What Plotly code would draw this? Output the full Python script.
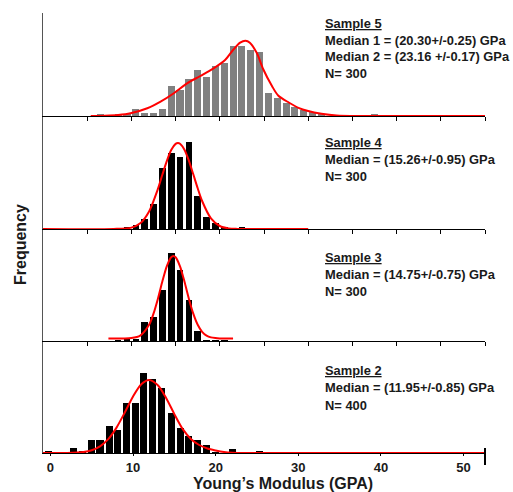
import plotly.graph_objects as go

# ---------------- data ----------------
# Sample 5 (top panel)
s5_x = [6.5, 8.5, 9.5, 10.5, 11.5, 12.5, 13.5, 14.5, 15.5, 16.5, 17.5, 18.5, 19.5, 20.5,
        21.5, 22.5, 23.5, 24.5, 25.5, 26.5, 27.5, 28.5, 29.5, 30.5, 31.5, 37.5]
s5_y = [2, 1.5, 1.5, 7.5, 3, 3, 7.5, 30, 26, 37, 46, 39, 50, 53,
        70, 70, 66, 64, 23.5, 18, 13, 9, 6, 4.5, 2, 2]
s5_fit_x = [5.4, 7, 8.5, 9.9, 11.8, 13.3, 14.8, 16.3, 17.8, 19.3, 20.6, 21.5, 22.3, 22.9,
            23.4, 24.2, 24.9, 25.9, 26.6, 27.8, 28.9, 30.0, 31.5, 33.2, 36, 40, 50]
s5_fit_y = [0, 0.3, 1, 2.7, 7.7, 14.3, 22.7, 32.7, 40, 47.7, 56, 66, 73.3, 75.3,
            73.3, 62.7, 47, 30, 20.5, 13.5, 8.2, 5, 2.3, 0.5, 0, 0, 0]

# Sample 4
s4_x = [8.5, 9.5, 10.5, 11.5, 12.5, 13.5, 14.5, 15.5, 16.5, 17.5, 18.5, 19.5, 20.5, 22.5]
s4_y = [1, 2, 4, 10, 25, 61, 76, 72, 87, 33, 12, 6, 2, 2]
s4_fit_x = [0, 8, 10, 11, 12, 13, 13.5, 14, 14.5, 15, 15.26, 15.5, 16, 16.5, 17, 17.5,
            18, 19, 20, 21, 22, 30]
s4_fit_y = [0, 0.03, 1.4, 5.7, 17.6, 40.1, 54.2, 67.8, 78.9, 85.1, 86, 85.3, 79.3, 68.4,
            54.7, 40.7, 28.0, 10.7, 3.0, 0.6, 0.1, 0]

# Sample 3
s3_x = [8.5, 9.5, 10.5, 11.5, 12.5, 13.5, 14.5, 15.5, 16.5, 17.5, 18.5, 19.5, 20.5]
s3_y = [1, 2.5, 2.5, 19, 24, 51, 88, 71, 41, 10.5, 1, 0.7, 0.7]
s3_fit_x = [7.4, 9, 10, 11, 12, 12.5, 13, 13.5, 14, 14.5, 14.75, 15, 15.5, 16, 16.5,
            17, 17.5, 18, 18.5, 19, 19.5, 20, 21.5]
s3_fit_y = [2.5, 2.6, 2.9, 5.4, 16.2, 27.3, 42.3, 59.4, 74.7, 83.8, 85, 83.8, 74.7, 59.4,
            42.3, 27.3, 16.2, 9.2, 5.4, 3.6, 2.9, 2.6, 2.5]

# Sample 2 (bottom panel, labelled axis)
s2_x = [-0.2, 2.8, 3.85, 5.0, 6.0, 7.1, 8.1, 9.2, 10.3, 11.3, 12.4, 13.5, 14.6, 15.7,
        16.7, 17.8, 18.9, 20.0, 22.0, 25.3]
s2_y = [2, 5, 2, 13, 13, 27, 23, 50, 50, 80, 74, 65, 40, 25, 17, 13, 8, 1, 4, 2]
s2_fit_x = [-0.9, 2, 4, 5, 6, 7, 8, 9, 10, 11, 11.95, 13, 14, 15, 16, 17, 18, 19, 20,
            21, 22, 24, 52.6]
s2_fit_y = [0, 0.1, 1.0, 2.8, 6.7, 13.9, 25.4, 40.5, 56.5, 68.7, 73, 67.7, 55.0, 38.9,
            24.1, 14, 8, 4.5, 2.5, 1, 0.3, 0, 0]

bottom_ticks = [0, 10, 20, 30, 40, 50]
upper_ticks = [5, 10, 15, 20, 25, 30, 35, 40, 45, 50]

labels = {
    "s5": ["<u>Sample 5</u>", "Median 1 = (20.30+/-0.25) GPa",
           "Median 2 = (23.16 +/-0.17) GPa", "N= 300"],
    "s4": ["<u>Sample 4</u>", "Median = (15.26+/-0.95) GPa", "N= 300"],
    "s3": ["<u>Sample 3</u>", "Median = (14.75+/-0.75) GPa", "N= 300"],
    "s2": ["<u>Sample 2</u>", "Median = (11.95+/-0.85) GPa", "N= 400"],
}

# ---------------- layout geometry ----------------
W, H = 513, 492
ML, MR, MT, MB = 43, 28, 13, 39
PW = W - ML - MR
PH = H - MT - MB
base_px = [453, 341, 229, 116]   # baselines of panels: s2, s3, s4, s5
top_px = [341, 229, 116, 13]

def py(p):  # pixel y -> paper
    return (H - MB - p) / PH

def px(p):  # pixel x -> paper
    return (p - ML) / PW

FONT = "Liberation Sans, Arial, sans-serif"
TXT = "#1a1a1a"
RED = "#ff0000"

fig = go.Figure()

panels = [
    ("s2", s2_x, s2_y, s2_fit_x, s2_fit_y, "black", 0.85, "x", "y"),
    ("s3", s3_x, s3_y, s3_fit_x, s3_fit_y, "black", 0.75, "x2", "y2"),
    ("s4", s4_x, s4_y, s4_fit_x, s4_fit_y, "black", 0.75, "x3", "y3"),
    ("s5", s5_x, s5_y, s5_fit_x, s5_fit_y, "#808080", 0.8, "x4", "y4"),
]
for name, bx, by, fx, fy, col, bw, xa, ya in panels:
    fig.add_trace(go.Bar(x=bx, y=by, width=bw, marker=dict(color=col, line=dict(width=0)),
                         xaxis=xa, yaxis=ya, showlegend=False, hoverinfo="skip"))
    fig.add_trace(go.Scatter(x=fx, y=fy, mode="lines", line=dict(color=RED, width=2, shape="spline",
                             smoothing=0.8), xaxis=xa, yaxis=ya, showlegend=False, hoverinfo="skip"))

layout = dict(
    width=W, height=H, margin=dict(l=ML, r=MR, t=MT, b=MB),
    paper_bgcolor="white", plot_bgcolor="white", bargap=0,
    font=dict(family=FONT, color=TXT),
)
for i in range(4):
    xs = "xaxis" if i == 0 else f"xaxis{i+1}"
    ys = "yaxis" if i == 0 else f"yaxis{i+1}"
    ya_name = "y" if i == 0 else f"y{i+1}"
    d0, d1 = py(base_px[i]), py(top_px[i])
    height_units = base_px[i] - top_px[i]
    ax = dict(domain=[0, 1], anchor=ya_name, showline=True, linecolor="black", linewidth=1,
              showgrid=False, zeroline=False, layer="below traces", ticks="outside",
              tickcolor="black")
    if i == 0:
        ax.update(range=[-0.9, 52.6], tickvals=bottom_ticks, ticklen=2,
                  tickfont=dict(family=FONT, size=13, color=TXT),
                  ticktext=[f"<b>{t}</b>" for t in bottom_ticks])
    else:
        ax.update(range=[0, 50], tickvals=upper_ticks, ticklen=4, showticklabels=False)
    layout[xs] = ax
    layout[ys] = dict(domain=[d0, d1], anchor="x" if i == 0 else f"x{i+1}",
                      range=[0, height_units], showline=True, linecolor="#555", linewidth=1,
                      showgrid=False, zeroline=False, showticklabels=False, ticks="")
fig.update_layout(**layout)

annotations = []
line_y = {
    "s5": [23.5, 40, 56.5, 73],
    "s4": [142, 159, 176],
    "s3": [257, 274, 291],
    "s2": [370, 387, 405],
}
for key, lines in labels.items():
    for t, yy in zip(lines, line_y[key]):
        annotations.append(dict(x=px(323), y=py(yy), xref="paper", yref="paper",
                                text=f"<b>{t}</b>", showarrow=False, xanchor="left",
                                yanchor="middle", font=dict(family=FONT, size=12.9, color=TXT)))
annotations.append(dict(x=px(283), y=py(483), xref="paper", yref="paper",
                        text="<b>Young’s Modulus (GPA)</b>", showarrow=False,
                        xanchor="center", yanchor="middle",
                        font=dict(family=FONT, size=16, color=TXT)))
annotations.append(dict(x=px(20), y=py(245), xref="paper", yref="paper",
                        text="<b>Frequency</b>", showarrow=False, textangle=-90,
                        xanchor="center", yanchor="middle",
                        font=dict(family=FONT, size=16, color=TXT)))
fig.update_layout(annotations=annotations)

fig.add_shape(type="line", xref="paper", yref="paper", x0=1, x1=1,
              y0=py(465), y1=py(448), line=dict(color="black", width=2))

fig.write_html("out.html", config={"displayModeBar": False},
               post_script="document.body.style.margin='0';document.body.style.overflow='hidden';")
